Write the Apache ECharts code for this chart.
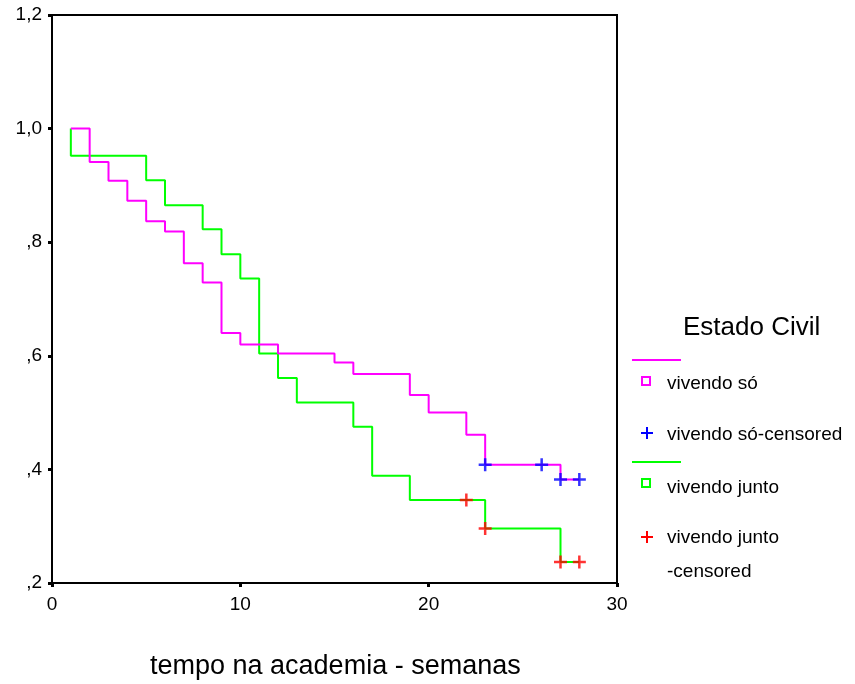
<!DOCTYPE html>
<html>
<head>
<meta charset="utf-8">
<script src="https://cdn.jsdelivr.net/npm/echarts@6/dist/echarts.min.js"></script>
<style>
html,body{margin:0;padding:0;background:#fff;}
#chart{width:855px;height:684px;}
</style>
</head>
<body>
<div id="chart"></div>
<script>
// Kaplan-Meier estimates
const soTimes = [1, 2, 3, 4, 5, 6, 7, 8, 9, 10, 12, 15, 16, 19, 20, 22, 23, 27, 28];
const soSurv = [1.0, 0.941, 0.908, 0.873, 0.837, 0.819, 0.763, 0.729, 0.640, 0.620, 0.604, 0.588, 0.568, 0.531, 0.500, 0.461, 0.408, 0.382, 0.382];
const soCensTimes = [23, 26, 27, 28];
const soCensSurv = [0.408, 0.408, 0.382, 0.382];

const juntoTimes = [1, 1, 5, 6, 8, 9, 10, 11, 12, 13, 16, 17, 19, 23, 27, 28];
const juntoSurv = [1.0, 0.952, 0.909, 0.865, 0.823, 0.779, 0.736, 0.604, 0.561, 0.518, 0.475, 0.389, 0.346, 0.296, 0.237, 0.237];
const juntoCensTimes = [22, 23, 27, 28];
const juntoCensSurv = [0.346, 0.296, 0.237, 0.237];

const legendTitle = 'Estado Civil';
const groupNames = ['vivendo só', 'vivendo junto'];
const xTitle = 'tempo na academia - semanas';

const pair = (xs, ys) => xs.map((x, i) => [x, ys[i]]);
const plusPath = 'path://M6,0L6,12M0,6L12,6';
const FONT = 'Liberation Sans, Arial, sans-serif';

const chart = echarts.init(document.getElementById('chart'), null, {renderer: 'canvas'});

const fmtY = v => {
  let s = (Math.round(v * 10) / 10).toFixed(1).replace('.', ',');
  if (s.startsWith('0')) s = s.slice(1);
  return s;
};

const option = {
  animation: false,
  backgroundColor: '#ffffff',
  grid: {
    left: 52, right: 238, top: 15, bottom: 101,
    show: true, borderColor: '#000', borderWidth: 2,
    outerBoundsMode: 'none'
  },
  xAxis: {
    type: 'value', min: 0, max: 30, interval: 10,
    axisLine: {show: true, onZero: false, lineStyle: {color: '#000', width: 2}},
    axisTick: {show: true, length: 4, lineStyle: {color: '#000', width: 3}},
    axisLabel: {color: '#000', fontSize: 19, fontFamily: FONT, margin: 12},
    splitLine: {show: false}
  },
  yAxis: {
    type: 'value', min: 0.2, max: 1.2, interval: 0.2,
    axisLine: {show: true, onZero: false, lineStyle: {color: '#000', width: 2}},
    axisTick: {show: true, length: 4, lineStyle: {color: '#000', width: 3}},
    axisLabel: {color: '#000', fontSize: 19, fontFamily: FONT, margin: 10, formatter: fmtY},
    splitLine: {show: false}
  },
  series: [
    {
      name: groupNames[1], type: 'line', step: 'end', showSymbol: false,
      data: pair(juntoTimes, juntoSurv),
      lineStyle: {color: '#00ff00', width: 2}, z: 2
    },
    {
      name: groupNames[0], type: 'line', step: 'end', showSymbol: false,
      data: pair(soTimes, soSurv),
      lineStyle: {color: '#ff00ff', width: 2}, z: 3
    },
    {
      name: groupNames[1] + '-censored', type: 'scatter', symbol: plusPath, symbolSize: 13,
      data: pair(juntoCensTimes, juntoCensSurv),
      itemStyle: {color: 'none', borderColor: '#ff0000', borderWidth: 2.5}, z: 4
    },
    {
      name: groupNames[0] + '-censored', type: 'scatter', symbol: plusPath, symbolSize: 13,
      data: pair(soCensTimes, soCensSurv),
      itemStyle: {color: 'none', borderColor: '#0000ff', borderWidth: 2.5}, z: 5
    }
  ],
  graphic: [
    {type: 'text', left: 683, top: 315, style: {text: legendTitle, fontSize: 26, fontFamily: FONT, fill: '#000'}},
    {type: 'line', shape: {x1: 632, y1: 360, x2: 681, y2: 360}, style: {stroke: '#ff00ff', lineWidth: 2}},
    {type: 'rect', shape: {x: 642, y: 377, width: 8, height: 8}, style: {fill: 'none', stroke: '#ff00ff', lineWidth: 2}},
    {type: 'text', left: 667, top: 374, style: {text: groupNames[0], fontSize: 19, fontFamily: FONT, fill: '#000'}},
    {type: 'line', shape: {x1: 647, y1: 427, x2: 647, y2: 439}, style: {stroke: '#0000ff', lineWidth: 2}},
    {type: 'line', shape: {x1: 641, y1: 433, x2: 653, y2: 433}, style: {stroke: '#0000ff', lineWidth: 2}},
    {type: 'text', left: 667, top: 425, style: {text: groupNames[0] + '-censored', fontSize: 19, fontFamily: FONT, fill: '#000'}},
    {type: 'line', shape: {x1: 632, y1: 462, x2: 681, y2: 462}, style: {stroke: '#00ff00', lineWidth: 2}},
    {type: 'rect', shape: {x: 642, y: 479, width: 8, height: 8}, style: {fill: 'none', stroke: '#00ff00', lineWidth: 2}},
    {type: 'text', left: 667, top: 478, style: {text: groupNames[1], fontSize: 19, fontFamily: FONT, fill: '#000'}},
    {type: 'line', shape: {x1: 647, y1: 531, x2: 647, y2: 543}, style: {stroke: '#ff0000', lineWidth: 2}},
    {type: 'line', shape: {x1: 641, y1: 537, x2: 653, y2: 537}, style: {stroke: '#ff0000', lineWidth: 2}},
    {type: 'text', left: 667, top: 528, style: {text: groupNames[1], fontSize: 19, fontFamily: FONT, fill: '#000'}},
    {type: 'text', left: 667, top: 562, style: {text: '-censored', fontSize: 19, fontFamily: FONT, fill: '#000'}},
    {type: 'text', left: 150, top: 653, style: {text: xTitle, fontSize: 27, fontFamily: FONT, fill: '#000'}}
  ]
};
chart.setOption(option);
</script>
</body>
</html>
